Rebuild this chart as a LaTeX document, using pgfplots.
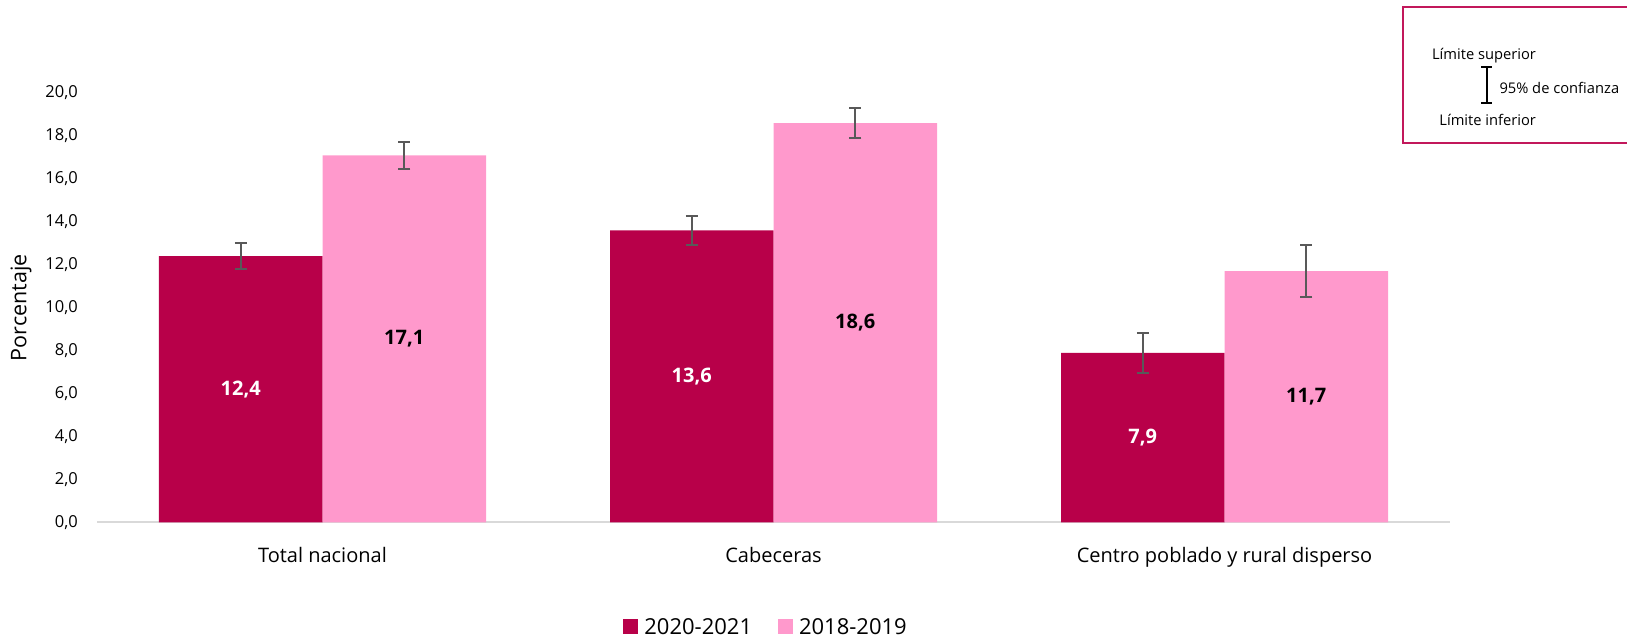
\documentclass[border=0pt]{standalone}
\usepackage{fontspec}
\setmainfont{Open Sans}
\usepackage{pgfplots}
\usepackage{pgfplotstable}
\pgfplotsset{compat=1.18}
\definecolor{cDark}{HTML}{B80049}
\definecolor{cLight}{HTML}{FF99CC}
\definecolor{cErr}{HTML}{595959}
\definecolor{cAxis}{HTML}{D9D9D9}
\definecolor{cBox}{HTML}{C2185B}
\pgfplotstableread{
x y e
0 12.4 0.60
1 13.6 0.69
2 7.9 0.93
}\dataA
\pgfplotstableread{
x y e
0 17.1 0.62
1 18.6 0.71
2 11.7 1.22
}\dataB
\newcommand\fs[1]{\fontsize{#1}{#1}\selectfont}
\begin{document}
\begin{tikzpicture}[x=1bp,y=1bp]
\path[use as bounding box] (0,0) rectangle (1627,637);
\begin{axis}[
  at={(97bp,114.5bp)}, anchor=south west,
  scale only axis, width=1353bp, height=429.5bp,
  xmin=-0.5, xmax=2.5, ymin=0, ymax=20,
  ybar=0pt, bar width=163.5bp,
  xtick={0,1,2},
  xticklabels={Total nacional, Cabeceras, Centro poblado y rural disperso},
  ytick={0,2,...,20},
  axis x line*=bottom, axis y line*=left,
  x axis line style={draw=cAxis, line width=2bp},
  y axis line style={draw=none},
  major tick length=0pt,
  /pgf/number format/.cd, fixed, fixed zerofill, precision=1, use comma, assume math mode=true,
  /pgfplots/.cd,
  yticklabel style={font=\fs{16.5bp}, anchor=east, inner sep=0pt, xshift=-19bp},
  xticklabel style={font=\fs{20bp}, anchor=base, inner sep=0pt, yshift=-40bp},
  ylabel={Porcentaje},
  every axis y label/.style={at={(axis description cs:-0.05617,0.5)}, rotate=90, anchor=center, font=\fs{21.5bp}},
  clip=false,
  legend style={at={(axis description cs:0.4945,-0.2433)}, anchor=center, draw=none, fill=none, font=\fs{22bp}, legend columns=2,
    /tikz/every odd column/.append style={column sep=4bp},
    /tikz/every even column/.append style={column sep=24bp}},
  legend image code/.code={\fill[#1] (0bp,-7.5bp) rectangle (15bp,7.5bp);},
  error bars/y dir=both, error bars/y explicit,
  error bars/error bar style={line width=2bp, draw=cErr},
  error bars/error mark options={draw=cErr, line width=2bp, mark size=6bp, rotate=90},
  nodes near coords,
  visualization depends on={rawy \as \rawy},
  every node near coord/.append style={anchor=center, yshift=-10.7778*\rawy, font=\bfseries\fs{20bp}},
]
\addplot[fill=cDark, draw=none, every node near coord/.append style={text=white}]
  table[x=x, y=y, y error=e] {\dataA};
\addplot[fill=cLight, draw=none, every node near coord/.append style={text=black}]
  table[x=x, y=y, y error=e] {\dataB};
\legend{2020-2021, 2018-2019}
\end{axis}
\draw[cBox, line width=2bp] (1403.3,493.7) rectangle (1640,629.7);
\node[font=\fs{14.7bp}, anchor=base, inner sep=0pt] at (1484,577.7) {Límite superior};
\node[font=\fs{14.7bp}, anchor=base west, inner sep=0pt] at (1499.3,543) {95\% de confianza};
\node[font=\fs{14.7bp}, anchor=base, inner sep=0pt] at (1487.7,511.5) {Límite inferior};
\draw[black, line width=2bp] (1486.7,570.3) -- (1486.7,533.7);
\draw[black, line width=2bp] (1481,570.3) -- (1492.4,570.3);
\draw[black, line width=2bp] (1481,533.7) -- (1492.4,533.7);
\end{tikzpicture}
\end{document}
